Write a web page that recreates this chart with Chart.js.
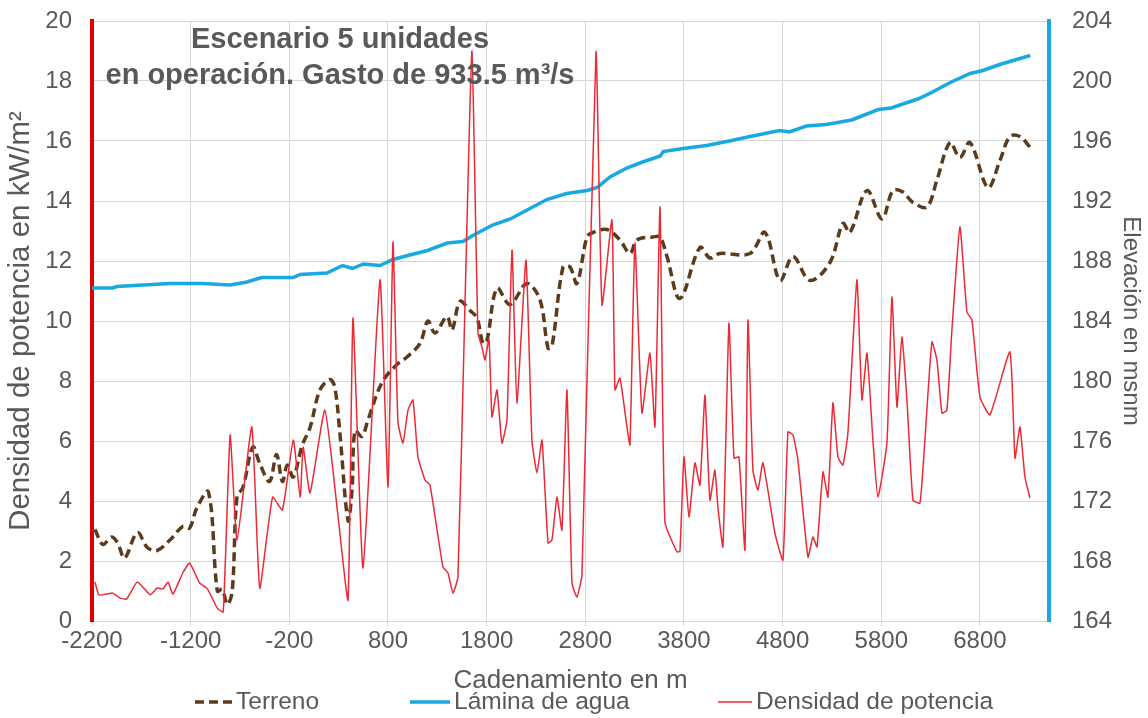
<!DOCTYPE html>
<html>
<head>
<meta charset="utf-8">
<script src="https://cdn.jsdelivr.net/npm/chart.js@4.4.1/dist/chart.umd.min.js"></script>
<style>
    html, body { margin: 0; padding: 0; background: #fff; }
    #contenedor { width: 1148px; height: 718px; }
</style>
</head>
<body>
<div id="contenedor"><canvas id="grafica"></canvas></div>
<script>
// ====================== DATOS ======================
const xTicks = [-2200, -1200, -200, 800, 1800, 2800, 3800, 4800, 5800, 6800];

// Terreno (msnm, eje derecho)
const terrenoX = [-2170, -2090, -2000, -1940, -1870, -1740, -1640, -1540, -1410, -1280, -1210, -1140, -1020,
    -930, -880, -830, -780, -730, -670, -570, -500, -400, -330, -270, -220, -160, -70, 10, 110, 210, 260,
    310, 395, 435, 466, 536, 597, 739, 891, 993, 1124, 1205, 1276, 1398, 1449, 1530, 1631, 1702, 1763,
    1803, 1905, 2036, 2209, 2341, 2422, 2462, 2574, 2645, 2715, 2817, 2878, 3020, 3151, 3253, 3324, 3486,
    3557, 3628, 3759, 3962, 4063, 4165, 4469, 4621, 4773, 4905, 5077, 5280, 5411, 5482, 5655, 5807, 5918,
    6019, 6121, 6263, 6364, 6496, 6597, 6699, 6881, 7003, 7104, 7205, 7307];
const terrenoY = [170.1, 169.1, 169.6, 169.2, 168.2, 169.9, 168.9, 168.7, 169.4, 170.3, 170.2, 171.5, 172.6,
    166.0, 166.1, 165.1, 165.9, 172.3, 172.9, 175.6, 174.5, 173.3, 175.1, 173.3, 174.4, 173.6, 175.7, 176.9,
    179.4, 180.1, 179.6, 176.7, 170.7, 172.7, 176.7, 176.3, 177.4, 179.9, 181.1, 181.6, 182.5, 184.0, 183.2,
    184.3, 183.4, 185.3, 184.7, 184.2, 182.5, 182.7, 186.2, 185.1, 186.5, 185.4, 182.2, 182.3, 187.6, 187.6,
    186.5, 189.6, 189.9, 190.1, 189.4, 188.5, 189.4, 189.6, 189.6, 188.3, 185.5, 188.9, 188.2, 188.5, 188.5,
    189.9, 186.7, 188.3, 186.7, 187.9, 190.5, 189.9, 192.7, 190.8, 192.7, 192.6, 191.9, 191.6, 193.4, 195.9,
    194.9, 195.9, 192.9, 194.7, 196.3, 196.3, 195.6];

// Lámina de agua (msnm, eje derecho)
const laminaX = [-2200, -1990, -1950, -1410, -1075, -800, -630, -480, -160, -90, 180, 340, 440, 550, 720,
    850, 1020, 1200, 1400, 1560, 1660, 1860, 2040, 2210, 2410, 2610, 2820, 2920, 3050, 3220, 3380, 3560,
    3590, 3790, 4030, 4260, 4470, 4770, 4870, 5040, 5240, 5500, 5770, 5900, 6170, 6300, 6500, 6700, 6830,
    7000, 7310];
const laminaY = [186.2, 186.2, 186.3, 186.5, 186.5, 186.4, 186.6, 186.9, 186.9, 187.1, 187.2, 187.7, 187.5,
    187.8, 187.7, 188.1, 188.4, 188.7, 189.2, 189.3, 189.7, 190.4, 190.8, 191.4, 192.1, 192.5, 192.7, 192.9,
    193.6, 194.2, 194.6, 195.0, 195.3, 195.5, 195.7, 196.0, 196.3, 196.7, 196.6, 197.0, 197.1, 197.4, 198.1,
    198.2, 198.8, 199.2, 199.9, 200.5, 200.7, 201.1, 201.7];

// Densidad de potencia (kW/m², eje izquierdo)
const densidadX = [-2170, -2130, -2050, -1990, -1920, -1850, -1740, -1610, -1540, -1480, -1430, -1380, -1280,
    -1210, -1110, -1030, -930, -870, -800, -730, -580, -500, -370, -270, -160, -90, -60, 10, 160, 290, 395,
    445, 547, 719, 800, 851, 901, 952, 1003, 1053, 1104, 1175, 1226, 1357, 1408, 1459, 1509, 1580, 1651,
    1712, 1753, 1783, 1824, 1854, 1905, 1955, 2006, 2057, 2107, 2199, 2259, 2310, 2361, 2422, 2462, 2513,
    2563, 2614, 2665, 2715, 2766, 2908, 2969, 3070, 3101, 3151, 3222, 3253, 3303, 3374, 3455, 3506, 3557,
    3607, 3729, 3759, 3800, 3851, 3911, 3962, 4013, 4063, 4114, 4144, 4195, 4256, 4307, 4357, 4418, 4449,
    4499, 4550, 4601, 4722, 4803, 4854, 4905, 4955, 5057, 5107, 5148, 5209, 5259, 5310, 5361, 5411, 5462,
    5553, 5604, 5655, 5715, 5766, 5857, 5908, 5959, 6009, 6060, 6121, 6192, 6242, 6313, 6364, 6415, 6465,
    6516, 6597, 6668, 6719, 6800, 6901, 7104, 7155, 7205, 7256, 7307];
const densidadY = [1.3, 0.87, 0.9, 0.93, 0.77, 0.73, 1.3, 0.87, 1.1, 1.07, 1.3, 0.9, 1.6,
    1.93, 1.27, 1.07, 0.43, 0.3, 6.2, 2.7, 6.47, 1.1, 4.13, 3.7, 6.03, 4.13, 5.8, 4.27, 7.03, 3.6, 0.7,
    10.1, 1.77, 11.37, 4.47, 12.63, 6.63, 5.93, 7.03, 7.37, 5.47, 4.7, 4.53, 1.8, 1.6, 0.93, 1.47, 10.5, 19.0,
    9.6, 9.13, 8.7, 9.4, 6.8, 7.7, 5.93, 6.7, 12.37, 7.27, 12.03, 6.03, 4.93, 6.03, 2.6, 2.7, 4.13,
    3.03, 7.7, 1.27, 0.8, 1.53, 18.97, 10.53, 13.37, 7.7, 8.1, 6.47, 5.87, 12.6, 6.93, 8.93, 6.47, 13.8,
    3.3, 2.3, 2.33, 5.47, 3.47, 5.27, 4.53, 7.53, 4.03, 5.03, 3.8, 2.47, 9.93, 5.43, 5.47, 2.37, 10.03,
    5.03, 4.37, 5.27, 2.93, 2.03, 6.3, 6.2, 5.37, 2.13, 2.8, 2.47, 4.97, 4.13, 7.27, 5.47, 5.2, 6.27,
    11.37, 7.37, 8.93, 6.03, 4.13, 5.93, 10.8, 7.13, 9.47, 7.37, 4.03, 3.93, 6.03, 9.3, 8.7, 6.93, 7.03,
    9.7, 13.13, 10.3, 10.03, 7.47, 6.87, 8.97, 5.43, 6.47, 4.8, 4.1];

const tituloLineas = ["Escenario 5 unidades", "en operación. Gasto de 933.5 m³/s"];

// ====================== ESTILO ======================
const FUENTE = "'Liberation Sans', Arial, sans-serif";
const GRIS = "#595959";

function puntos(xs, ys) {
    return xs.map((x, i) => ({ x: x, y: ys[i] }));
}

// los ejes Y no deben empujar el área del gráfico hacia abajo
function ajustarEjeY(ancho) {
    return s => {
        s.width = ancho;
        s.paddingTop = 0;
        s.paddingBottom = 0;
    };
}

// Título dentro del área y leyenda a mano
const pluginTextos = {
    id: "textos",
    afterDraw(chart) {
        const ctx = chart.ctx;
        ctx.save();
        ctx.fillStyle = GRIS;
        ctx.font = "bold 29px " + FUENTE;
        ctx.textAlign = "center";
        ctx.textBaseline = "middle";
        ctx.fillText(tituloLineas[0], 340, 40);
        ctx.fillText(tituloLineas[1], 340, 76);

        // leyenda
        const pos = [[195, 232], [410, 450], [718, 752]];
        ctx.font = "24.5px " + FUENTE;
        ctx.textAlign = "left";
        chart.data.datasets.forEach((ds, i) => {
            const y = 702;
            ctx.beginPath();
            ctx.setLineDash(ds.borderDash || []);
            ctx.lineWidth = ds.borderWidth;
            ctx.strokeStyle = ds.borderColor;
            ctx.moveTo(pos[i][0], y);
            ctx.lineTo(pos[i][1], y);
            ctx.stroke();
            ctx.setLineDash([]);
            ctx.fillText(ds.label, pos[i][1] + 4, y);
        });
        ctx.restore();
    }
};

const ctx = document.getElementById("grafica").getContext("2d");
new Chart(ctx, {
    type: "line",
    data: {
        datasets: [
            {
                label: "Terreno",
                data: puntos(terrenoX, terrenoY),
                yAxisID: "yDer",
                borderColor: "#5b3b1c",
                borderWidth: 3.5,
                borderDash: [9, 5],
                pointRadius: 0,
                tension: 0.35,
                order: 1
            },
            {
                label: "Lámina de agua",
                data: puntos(laminaX, laminaY),
                yAxisID: "yDer",
                borderColor: "#19a9e1",
                borderWidth: 3.5,
                pointRadius: 0,
                tension: 0,
                order: 2
            },
            {
                label: "Densidad de potencia",
                data: puntos(densidadX, densidadY),
                yAxisID: "yIzq",
                borderColor: "#ec2a36",
                borderWidth: 1.5,
                pointRadius: 0,
                tension: 0.15,
                order: 0
            }
        ]
    },
    options: {
        responsive: true,
        maintainAspectRatio: false,
        animation: false,
        layout: { padding: { top: 21, left: 0, right: 0, bottom: 22 } },
        plugins: {
            legend: { display: false },
            tooltip: { enabled: false }
        },
        scales: {
            x: {
                type: "linear",
                min: -2200,
                max: 7500,
                afterBuildTicks: s => { s.ticks = xTicks.map(v => ({ value: v })); },
                afterFit: s => { s.height = 75; },
                grid: { color: "#d6d6d6", lineWidth: 1, tickLength: 5 },
                border: { color: "#d6d6d6", width: 1 },
                ticks: {
                    color: GRIS,
                    font: { family: FUENTE, size: 24 },
                    padding: 1,
                    maxRotation: 0,
                    callback: v => String(v)
                },
                title: {
                    display: true,
                    text: "Cadenamiento en m",
                    color: GRIS,
                    font: { family: FUENTE, size: 26 },
                    padding: { top: 0, bottom: 0 }
                }
            },
            yIzq: {
                position: "left",
                min: 0,
                max: 20,
                afterFit: ajustarEjeY(92),
                ticks: { stepSize: 2, color: GRIS, font: { family: FUENTE, size: 24 }, padding: 20 },
                grid: { color: "#d6d6d6", lineWidth: 1, drawTicks: false },
                border: { color: "#e00000", width: 4 },
                title: {
                    display: true,
                    text: "Densidad de potencia en kW/m²",
                    color: GRIS,
                    font: { family: FUENTE, size: 29.5 },
                    padding: { top: 3, bottom: 0 }
                }
            },
            yDer: {
                position: "right",
                min: 164,
                max: 204,
                afterFit: ajustarEjeY(99),
                ticks: { stepSize: 4, color: GRIS, font: { family: FUENTE, size: 24 }, padding: 23 },
                grid: { drawOnChartArea: false, drawTicks: false },
                border: { color: "#19a9e1", width: 4 },
                title: {
                    display: true,
                    text: "Elevación en msnm",
                    color: GRIS,
                    font: { family: FUENTE, size: 24 },
                    padding: { top: 3, bottom: 0 }
                }
            }
        }
    },
    plugins: [pluginTextos]
});
</script>
</body>
</html>
